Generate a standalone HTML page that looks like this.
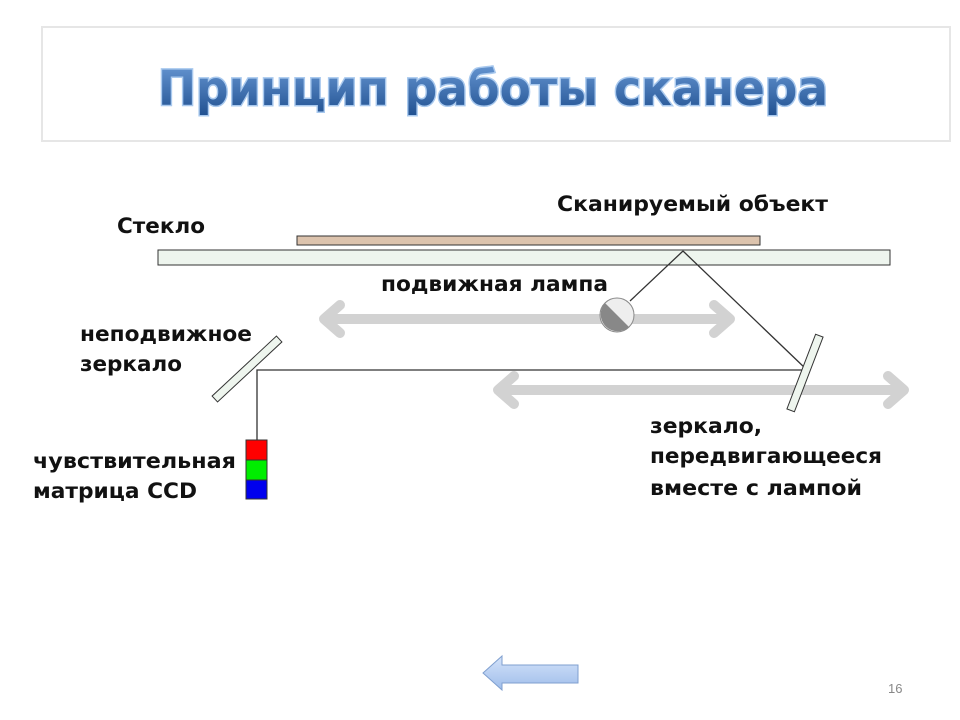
<!DOCTYPE html>
<html><head><meta charset="utf-8"><style>
body{margin:0;background:#fff;width:960px;height:720px;overflow:hidden}
svg{display:block}
.t{font-family:"DejaVu Sans","Liberation Sans",sans-serif;font-weight:bold;font-size:21px;fill:#111}
</style></head><body>
<svg width="960" height="720" viewBox="0 0 960 720" xmlns="http://www.w3.org/2000/svg">
<defs>
<linearGradient id="tg" x1="0" y1="0" x2="0" y2="1"><stop offset="0" stop-color="#6a9ad6"/><stop offset="1" stop-color="#1f4f8f"/></linearGradient>
<linearGradient id="ag" x1="0" y1="0" x2="0" y2="1"><stop offset="0" stop-color="#d4e3fa"/><stop offset="1" stop-color="#9fbdea"/></linearGradient>
</defs>
<rect x="42" y="27" width="908" height="114" fill="#fff" stroke="#e6e6e6" stroke-width="2"/>
<text x="158" y="105" textLength="670" lengthAdjust="spacingAndGlyphs" font-family="'DejaVu Sans','Liberation Sans',sans-serif" font-weight="bold" font-size="48" fill="url(#tg)" stroke="#a9c9ee" stroke-width="3" paint-order="stroke">Принцип работы сканера</text>

<rect x="297" y="236" width="463" height="9" fill="#dcc3ad" stroke="#333" stroke-width="1"/>
<rect x="158" y="250" width="732" height="15" fill="#eef5ee" stroke="#333" stroke-width="1"/>

<g fill="none" stroke="#d2d2d2" stroke-width="10" stroke-linecap="round" stroke-linejoin="round">
<line x1="326" y1="319" x2="728" y2="319"/>
<polyline points="340,305 324,319 340,333"/>
<polyline points="714,305 730,319 714,333"/>
<line x1="500" y1="390" x2="902" y2="390"/>
<polyline points="514,376 498,390 514,404"/>
<polyline points="888,376 904,390 888,404"/>
</g>

<g stroke="#333" stroke-width="1.3" fill="none">
<line x1="630" y1="301" x2="683" y2="251"/>
<line x1="683" y1="251" x2="806" y2="369"/>
<polyline points="806,370 257,370 257,440"/>
</g>

<circle cx="617" cy="315" r="17" fill="#eee" stroke="#888" stroke-width="1"/>
<path d="M605,303 A17,17 0 0 0 629,327 Z" fill="#888"/>

<rect x="-4" y="-40" width="8" height="80" fill="#eef5ee" stroke="#333" stroke-width="1" transform="translate(805,373) rotate(21)"/>
<rect x="-4" y="-44" width="8" height="88" fill="#eef5ee" stroke="#333" stroke-width="1" transform="translate(247,369) rotate(47)"/>

<rect x="246" y="440" width="21" height="20" fill="#f00" stroke="#333" stroke-width="1"/>
<rect x="246" y="460" width="21" height="20" fill="#0e0" stroke="#333" stroke-width="1"/>
<rect x="246" y="480" width="21" height="19" fill="#00e" stroke="#333" stroke-width="1"/>

<text class="t" x="117" y="233" textLength="88" lengthAdjust="spacingAndGlyphs">Стекло</text>
<text class="t" x="557" y="211" textLength="271" lengthAdjust="spacingAndGlyphs">Сканируемый объект</text>
<text class="t" x="381" y="291" textLength="227" lengthAdjust="spacingAndGlyphs">подвижная лампа</text>
<text class="t" x="80" y="341" textLength="172" lengthAdjust="spacingAndGlyphs">неподвижное</text>
<text class="t" x="80" y="371" textLength="102" lengthAdjust="spacingAndGlyphs">зеркало</text>
<text class="t" x="33" y="468" textLength="203" lengthAdjust="spacingAndGlyphs">чувствительная</text>
<text class="t" x="33" y="498" textLength="164" lengthAdjust="spacingAndGlyphs">матрица CCD</text>
<text class="t" x="650" y="433" textLength="112" lengthAdjust="spacingAndGlyphs">зеркало,</text>
<text class="t" x="650" y="463" textLength="232" lengthAdjust="spacingAndGlyphs">передвигающееся</text>
<text class="t" x="650" y="495" textLength="212" lengthAdjust="spacingAndGlyphs">вместе с лампой</text>

<path d="M483,673 L502,656 L502,665 L578,665 L578,683 L502,683 L502,690 Z" fill="url(#ag)" stroke="#7f9fcf" stroke-width="1"/>
<text x="888" y="693" font-family="'Liberation Sans',sans-serif" font-size="13" fill="#888">16</text>
</svg>
</body></html>
